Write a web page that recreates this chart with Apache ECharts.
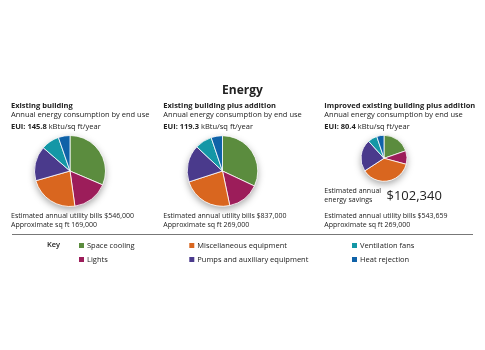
<!DOCTYPE html>
<html>
<head>
<meta charset="utf-8">
<script src="https://cdn.jsdelivr.net/npm/echarts@6/dist/echarts.min.js"></script>
<style>
  html, body { margin: 0; padding: 0; background: #fff; }
  #energy { width: 485px; height: 350px; }
</style>
</head>
<body>
<div id="energy"></div>
<script>
var endUses = ['Space cooling', 'Lights', 'Miscellaneous equipment', 'Pumps and auxiliary equipment', 'Ventilation fans', 'Heat rejection'];
var colors = ['#5b8c3e', '#9c1d5a', '#d9661f', '#4a3a8c', '#1497a6', '#0f62a8'];

// share of each end use (%)
var existing = [31.4, 16.4, 22.8, 15.8, 8.3, 5.3];
var plusAddition = [32.0, 14.7, 23.3, 17.0, 7.8, 5.2];
var improved = [19.7, 9.5, 36.6, 22.5, 6.6, 5.1];

var buildings = ['Existing building', 'Existing building plus addition', 'Improved existing building plus addition'];
var euiValues = ['145.8', '119.3', '80.4'];
var utilityBills = ['$546,000', '$837,000', '$543,659'];
var sqFt = ['169,000', '269,000', '269,000'];
var savings = '$102,340';

var font = '"Open Sans", "Noto Sans", sans-serif';
var ink = '#222';

var myChart = echarts.init(document.getElementById('energy'));

function $each(arr, fn) { for (var i = 0; i < arr.length; i++) fn(i, arr[i]); }

function toData(vals) {
    var out = [];
    $each(vals, function (i, v) { out.push({ name: endUses[i], value: v }); });
    return out;
}

function sum(vals) {
    var s = 0;
    $each(vals, function (i, v) { s += v; });
    return s;
}

var pies = [
    { vals: existing, center: [70, 171], r: 35.5 },
    { vals: plusAddition, center: [222.5, 171], r: 35.3 },
    { vals: improved, center: [384, 158.3], r: 23 }
];

var series = [];
$each(pies, function (i, p) {
    // soft shadow disc under each pie
    series.push({
        type: 'pie',
        silent: true,
        center: p.center,
        radius: [0, p.r],
        label: { show: false },
        labelLine: { show: false },
        itemStyle: { color: '#fff', shadowBlur: 7, shadowColor: 'rgba(0,0,0,0.35)', shadowOffsetY: 3 },
        data: [{ name: 'shadow', value: sum(p.vals) }],
        z: 1
    });
    series.push({
        type: 'pie',
        name: buildings[i],
        center: p.center,
        radius: [0, p.r],
        startAngle: 90,
        clockwise: true,
        label: { show: false },
        labelLine: { show: false },
        emphasis: { scale: false },
        itemStyle: { borderColor: '#fff', borderWidth: 0.8 },
        data: toData(p.vals),
        z: 2
    });
});

var colX = [11, 163.3, 324.3];
var graphics = [
    { type: 'text', left: 'center', top: 85, style: { text: 'Energy', font: 'bold 12px ' + font, fill: ink } }
];
$each(buildings, function (i, b) {
    var x = colX[i];
    graphics.push({ type: 'text', x: x, y: 105.7, style: { text: b, font: 'bold 7.5px ' + font, fill: ink, verticalAlign: 'middle' } });
    graphics.push({ type: 'text', x: x, y: 114.7, style: { text: 'Annual energy consumption by end use', font: '7.5px ' + font, fill: ink, verticalAlign: 'middle' } });
    graphics.push({
        type: 'text', x: x, y: 127.3,
        style: {
            text: '{b|EUI: ' + euiValues[i] + '}{n| kBtu/sq ft/year}',
            verticalAlign: 'middle', fill: ink,
            rich: { b: { font: 'bold 7.5px ' + font, fill: ink }, n: { font: '7.5px ' + font, fill: ink } }
        }
    });
    graphics.push({ type: 'text', x: x, y: 216, style: { text: 'Estimated annual utility bills ' + utilityBills[i], font: '7px ' + font, fill: ink, verticalAlign: 'middle' } });
    graphics.push({ type: 'text', x: x, y: 224.8, style: { text: 'Approximate sq ft ' + sqFt[i], font: '7px ' + font, fill: ink, verticalAlign: 'middle' } });
});
graphics.push({ type: 'text', x: colX[2], y: 191, style: { text: 'Estimated annual', font: '7px ' + font, fill: ink, verticalAlign: 'middle' } });
graphics.push({ type: 'text', x: colX[2], y: 200, style: { text: 'energy savings', font: '7px ' + font, fill: ink, verticalAlign: 'middle' } });
graphics.push({ type: 'text', x: 386.5, y: 196, style: { text: savings, font: '13px ' + font, fill: ink, verticalAlign: 'middle' } });
graphics.push({ type: 'line', shape: { x1: 12, y1: 234.5, x2: 473, y2: 234.5 }, style: { stroke: '#777', lineWidth: 1 } });
graphics.push({ type: 'text', x: 47, y: 244.5, style: { text: 'Key', font: '600 7.5px ' + font, fill: ink, verticalAlign: 'middle' } });

function keyColumn(left, names) {
    return {
        orient: 'vertical',
        left: left,
        top: 241,
        icon: 'rect',
        itemWidth: 7,
        itemHeight: 7,
        itemGap: 5,
        padding: 0,
        selectedMode: false,
        textStyle: { fontFamily: font, fontSize: 7.5, color: ink, padding: [0, 0, 0, -3] },
        data: names
    };
}

var option = {
    color: colors,
    animation: false,
    legend: [
        keyColumn(77, [endUses[0], endUses[1]]),
        keyColumn(187.3, [endUses[2], endUses[3]]),
        keyColumn(350, [endUses[4], endUses[5]])
    ],
    graphic: graphics,
    series: series
};
myChart.setOption(option);
window.addEventListener('resize', function () { myChart.resize(); });
</script>
</body>
</html>
